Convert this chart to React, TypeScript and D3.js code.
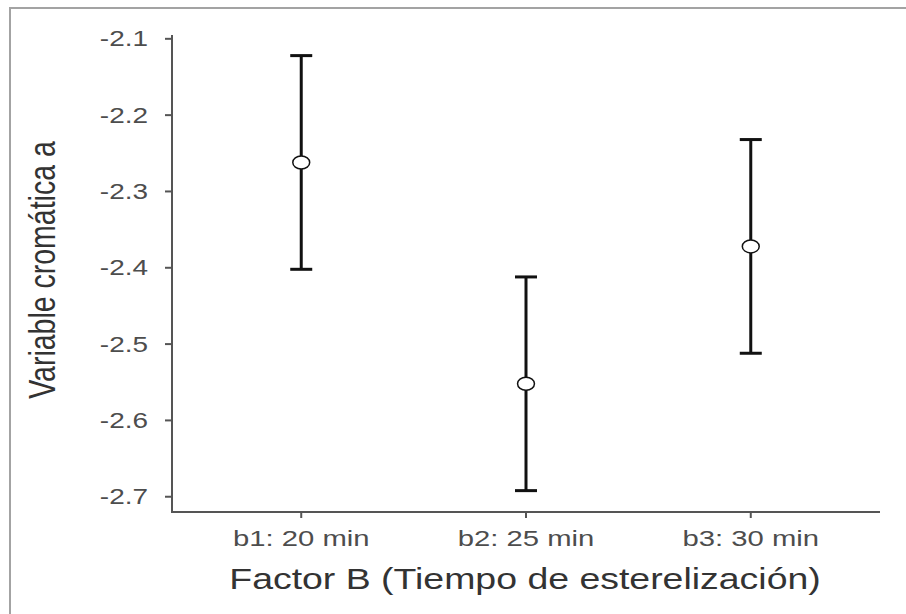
import React, { useEffect, useRef } from 'react';
import * as d3 from 'd3';

// data
const categories = ['b1: 20 min', 'b2: 25 min', 'b3: 30 min'];
const means = [-2.262, -2.552, -2.372];
const lowers = [-2.402, -2.692, -2.512];
const uppers = [-2.122, -2.412, -2.232];
const yTicks = [-2.1, -2.2, -2.3, -2.4, -2.5, -2.6, -2.7];

const xTitle = 'Factor B (Tiempo de esterelización)';
const yTitle = 'Variable cromática a';

export default function App() {
    const svgRef = useRef<SVGSVGElement>(null);

    useEffect(() => {
        if (!svgRef.current) return;
        const svg = d3.select(svgRef.current);
        svg.selectAll('*').remove();

        const width = 906;
        const height = 614;
        const panel = { left: 172, right: 880, top: 35, bottom: 512 };
        const sx = 1.3; // the source picture is stretched sideways
        const font = 'Liberation Sans, Arial, sans-serif';

        svg.append('rect')
            .attr('width', width).attr('height', height).attr('fill', '#fff');

        // frame round the figure
        svg.append('rect')
            .attr('x', 10).attr('y', 8)
            .attr('width', 920).attr('height', 640)
            .attr('fill', 'none')
            .attr('stroke', '#a3a3a3')
            .attr('stroke-width', 2);

        const x = d3.scalePoint<string>()
            .domain(categories)
            .range([panel.left, panel.right])
            .padding(0.575);

        const y = d3.scaleLinear()
            .domain([-2.72, -2.095])
            .range([panel.bottom, panel.top]);

        const axisColor = '#555';
        const tickText = '#4d4d4d';

        // axis lines
        svg.append('line')
            .attr('x1', panel.left).attr('x2', panel.left)
            .attr('y1', panel.top).attr('y2', panel.bottom + 1)
            .attr('stroke', axisColor).attr('stroke-width', 2);
        svg.append('line')
            .attr('x1', panel.left - 1).attr('x2', panel.right)
            .attr('y1', panel.bottom).attr('y2', panel.bottom)
            .attr('stroke', axisColor).attr('stroke-width', 2);

        // y ticks
        const yg = svg.append('g');
        yg.selectAll('line')
            .data(yTicks)
            .join('line')
            .attr('x1', panel.left - 7).attr('x2', panel.left)
            .attr('y1', d => y(d)).attr('y2', d => y(d))
            .attr('stroke', axisColor).attr('stroke-width', 2);
        yg.selectAll('text')
            .data(yTicks)
            .join('text')
            .attr('transform', d => `translate(${panel.left - 24},${y(d) + 7.5}) scale(${sx},1)`)
            .attr('text-anchor', 'end')
            .attr('font-family', font)
            .attr('font-size', 21.5)
            .attr('fill', tickText)
            .text(d => d3.format('.1f')(d).replace('−', '-'));

        // x ticks
        const xg = svg.append('g');
        xg.selectAll('line')
            .data(categories)
            .join('line')
            .attr('x1', d => x(d)!).attr('x2', d => x(d)!)
            .attr('y1', panel.bottom).attr('y2', panel.bottom + 6)
            .attr('stroke', axisColor).attr('stroke-width', 2);
        xg.selectAll('text')
            .data(categories)
            .join('text')
            .attr('transform', d => `translate(${x(d)},${panel.bottom + 34}) scale(${sx},1)`)
            .attr('text-anchor', 'middle')
            .attr('font-family', font)
            .attr('font-size', 22.5)
            .attr('fill', tickText)
            .text(d => d);

        // axis titles
        svg.append('text')
            .attr('transform', `translate(${(panel.left + panel.right) / 2 - 1},589) scale(${sx},1)`)
            .attr('text-anchor', 'middle')
            .attr('font-family', font)
            .attr('font-size', 28.8)
            .attr('fill', '#333')
            .text(xTitle);

        svg.append('text')
            .attr('transform', `translate(55,270) scale(${sx},1) rotate(-90)`)
            .attr('text-anchor', 'middle')
            .attr('font-family', font)
            .attr('font-size', 28.5)
            .attr('fill', '#333')
            .text(yTitle);

        // error bars
        const rows = categories.map((c, i) => ({ c, m: means[i], lo: lowers[i], hi: uppers[i] }));
        const cap = 11;
        const bars = svg.append('g').attr('stroke', '#111').attr('stroke-width', 3);
        bars.selectAll('.stem')
            .data(rows)
            .join('line')
            .attr('x1', d => x(d.c)!).attr('x2', d => x(d.c)!)
            .attr('y1', d => y(d.hi)).attr('y2', d => y(d.lo));
        bars.selectAll('.top')
            .data(rows)
            .join('line')
            .attr('x1', d => x(d.c)! - cap).attr('x2', d => x(d.c)! + cap)
            .attr('y1', d => y(d.hi)).attr('y2', d => y(d.hi));
        bars.selectAll('.bot')
            .data(rows)
            .join('line')
            .attr('x1', d => x(d.c)! - cap).attr('x2', d => x(d.c)! + cap)
            .attr('y1', d => y(d.lo)).attr('y2', d => y(d.lo));

        // mean points
        svg.append('g')
            .selectAll('ellipse')
            .data(rows)
            .join('ellipse')
            .attr('cx', d => x(d.c)!)
            .attr('cy', d => y(d.m))
            .attr('rx', 6.5 * sx)
            .attr('ry', 6.5)
            .attr('fill', '#fff')
            .attr('stroke', '#111')
            .attr('stroke-width', 1.5);
    }, []);

    return (
        <svg
            ref={svgRef}
            width={906}
            height={614}
            viewBox="0 0 906 614"
            style={{ position: 'absolute', left: 0, top: 0, display: 'block' }}
        />
    );
}
